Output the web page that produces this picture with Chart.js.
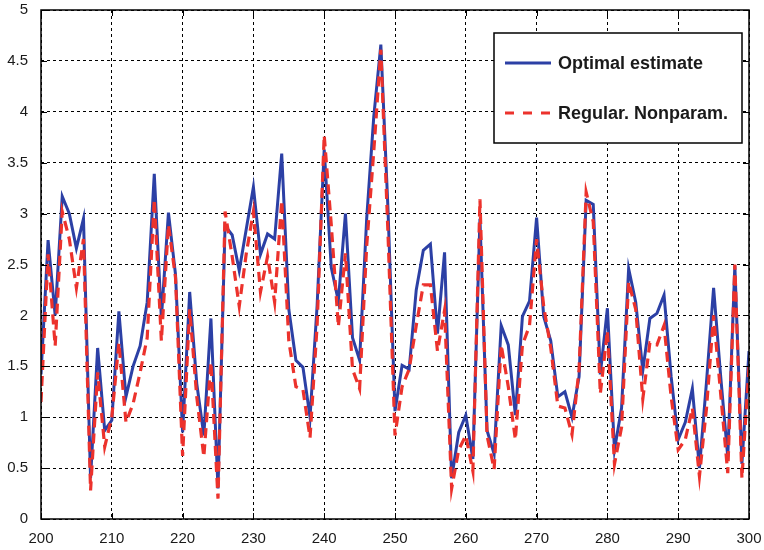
<!DOCTYPE html>
<html>
<head>
<meta charset="utf-8">
<script src="https://cdn.jsdelivr.net/npm/chart.js@4.4.0/dist/chart.umd.min.js"></script>
<style>
  html, body { margin: 0; padding: 0; background: #fff; }
  canvas { display: block; }
</style>
</head>
<body>
<canvas id="chart" width="764" height="550"></canvas>
<script>
// === Data ===
const X_START = 200;
const xTicks = [200, 210, 220, 230, 240, 250, 260, 270, 280, 290, 300];
const yTicks = [0, 0.5, 1, 1.5, 2, 2.5, 3, 3.5, 4, 4.5, 5];
const labels = ['Optimal estimate', 'Regular. Nonparam.'];

// samples 200..300, one per step
const optimal = [
  1.42, 2.74, 2.00, 3.17, 3.00, 2.66, 2.95, 0.40, 1.68, 0.87,
  0.97, 2.04, 1.20, 1.50, 1.70, 2.13, 3.39, 1.97, 3.01, 2.40,
  0.85, 2.23, 1.33, 0.82, 1.97, 0.30, 2.88, 2.79, 2.44, 2.85,
  3.26, 2.60, 2.80, 2.75, 3.59, 2.06, 1.56, 1.49, 1.00, 2.10,
  3.63, 2.47, 2.14, 3.00, 1.78, 1.56, 2.95, 3.95, 4.66, 3.06,
  1.06, 1.51, 1.47, 2.25, 2.64, 2.70, 1.82, 2.62, 0.40, 0.85,
  1.02, 0.59, 2.95, 0.87, 0.64, 1.90, 1.71, 1.02, 1.99, 2.14,
  2.96, 1.99, 1.75, 1.20, 1.25, 1.00, 1.40, 3.13, 3.09, 1.42,
  2.07, 0.68, 1.09, 2.46, 2.13, 1.46, 1.97, 2.02, 2.20, 1.40,
  0.78, 0.95, 1.28, 0.50, 1.35, 2.27, 1.40, 0.61, 2.49, 0.54,
  1.65
];
const nonparam = [
  1.15, 2.60, 1.70, 3.02, 2.75, 2.27, 2.75, 0.28, 1.44, 0.71,
  1.00, 1.73, 0.95, 1.13, 1.44, 1.78, 3.14, 1.75, 2.89, 2.37,
  0.62, 2.06, 1.20, 0.61, 1.54, 0.20, 3.02, 2.58, 2.09, 2.61,
  3.02, 2.23, 2.58, 2.13, 3.13, 1.75, 1.30, 1.27, 0.80, 1.90,
  3.77, 2.89, 1.89, 2.61, 1.47, 1.28, 2.68, 3.61, 4.61, 2.82,
  0.82, 1.30, 1.47, 1.90, 2.30, 2.30, 1.65, 2.05, 0.30, 0.68,
  0.82, 0.47, 3.14, 0.82, 0.49, 1.71, 1.30, 0.78, 1.71, 1.90,
  2.75, 2.09, 1.68, 1.11, 1.09, 0.83, 1.47, 3.21, 2.92, 1.23,
  1.85, 0.54, 0.90, 2.33, 2.06, 1.18, 1.73, 1.71, 1.90, 1.20,
  0.68, 0.78, 1.09, 0.42, 1.09, 2.00, 1.23, 0.45, 2.50, 0.40,
  1.50
];

const BLUE = 'rgb(44,64,165)';
const RED = 'rgb(236,50,44)';
const FONT = "'Liberation Sans', Arial, sans-serif";

const toPoints = arr => arr.map((v, i) => ({ x: X_START + i, y: v }));

// frame + inward ticks, matlab style
const framePlugin = {
  id: 'frame',
  afterDatasetsDraw(chart) {
    const { ctx, chartArea: a, scales } = chart;
    ctx.save();
    ctx.strokeStyle = '#000';
    ctx.lineWidth = 1.5;
    ctx.strokeRect(a.left, a.top, a.right - a.left, a.bottom - a.top);
    ctx.lineWidth = 1;
    ctx.beginPath();
    xTicks.forEach(v => {
      const px = Math.round(scales.x.getPixelForValue(v)) + 0.5;
      ctx.moveTo(px, a.bottom); ctx.lineTo(px, a.bottom - 6);
      ctx.moveTo(px, a.top); ctx.lineTo(px, a.top + 6);
    });
    yTicks.forEach(v => {
      const py = Math.round(scales.y.getPixelForValue(v)) + 0.5;
      ctx.moveTo(a.left, py); ctx.lineTo(a.left + 6, py);
      ctx.moveTo(a.right, py); ctx.lineTo(a.right - 6, py);
    });
    ctx.stroke();
    ctx.restore();
  }
};

const legendPlugin = {
  id: 'boxLegend',
  afterDraw(chart) {
    const { ctx } = chart;
    const box = { x: 494, y: 33, w: 248, h: 110 };
    ctx.save();
    ctx.fillStyle = '#fff';
    ctx.fillRect(box.x, box.y, box.w, box.h);
    ctx.strokeStyle = '#000';
    ctx.lineWidth = 1.5;
    ctx.strokeRect(box.x, box.y, box.w, box.h);
    const rows = [63, 113];
    chart.data.datasets.forEach((ds, i) => {
      const y = rows[i];
      ctx.beginPath();
      ctx.strokeStyle = ds.borderColor;
      ctx.lineWidth = 3;
      ctx.setLineDash(i === 1 ? [9, 9] : []);
      ctx.moveTo(505, y); ctx.lineTo(551, y);
      ctx.stroke();
      ctx.setLineDash([]);
      ctx.fillStyle = '#1a1a1a';
      ctx.font = 'bold 18px ' + FONT;
      ctx.textBaseline = 'middle';
      ctx.fillText(ds.label, 558, y + 1);
    });
    ctx.restore();
  }
};

new Chart(document.getElementById('chart'), {
  type: 'line',
  data: {
    datasets: [
      { label: labels[0], data: toPoints(optimal), borderColor: BLUE, borderWidth: 3, pointRadius: 0, tension: 0, order: 2 },
      { label: labels[1], data: toPoints(nonparam), borderColor: RED, borderWidth: 3.2, borderDash: [10, 6], pointRadius: 0, tension: 0, order: 1 }
    ]
  },
  options: {
    responsive: false,
    animation: false,
    events: [],
    layout: { padding: { top: 10, right: 15, left: 0, bottom: 0 } },
    plugins: { legend: { display: false }, tooltip: { enabled: false } },
    scales: {
      x: {
        type: 'linear', min: 200, max: 300,
        afterBuildTicks: s => { s.ticks = xTicks.map(v => ({ value: v })); },
        afterFit: s => { s.height = 31; s.paddingLeft = 0; s.paddingRight = 0; },
        grid: { color: '#000', lineWidth: 1, drawTicks: false },
        border: { display: false, dash: [3, 3] },
        ticks: { color: '#1a1a1a', font: { family: FONT, size: 15 }, padding: 11, maxRotation: 0, autoSkip: false, callback: v => String(v) }
      },
      y: {
        min: 0, max: 5,
        afterBuildTicks: s => { s.ticks = yTicks.map(v => ({ value: v })); },
        afterFit: s => { s.width = 41; s.paddingTop = 0; s.paddingBottom = 0; },
        grid: { color: '#000', lineWidth: 1, drawTicks: false },
        border: { display: false, dash: [3, 3] },
        ticks: { color: '#1a1a1a', font: { family: FONT, size: 15 }, padding: 13, autoSkip: false, callback: v => String(v) }
      }
    }
  },
  plugins: [framePlugin, legendPlugin]
});
</script>
</body>
</html>
